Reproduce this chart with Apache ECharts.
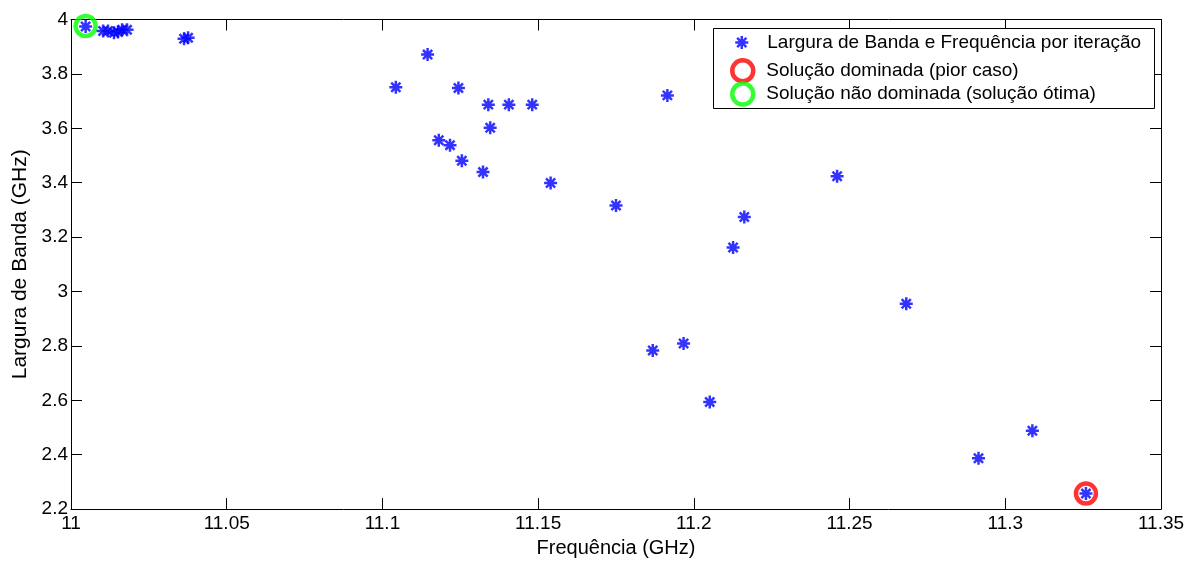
<!DOCTYPE html>
<html>
<head>
<meta charset="utf-8">
<script src="https://cdn.jsdelivr.net/npm/echarts@6/dist/echarts.min.js"></script>
<style>html,body{margin:0;padding:0;background:#fff}#c{width:1197px;height:563px}</style>
</head>
<body>
<div id="c"></div>
<script>
// Data
var freq = [11.0047, 11.0103, 11.0119, 11.0138, 11.0151, 11.0164, 11.0180, 11.0363, 11.0376,
  11.1043, 11.1145, 11.1244, 11.1340, 11.1406, 11.1481, 11.1915, 11.1346, 11.1181, 11.1217,
  11.1255, 11.1323, 11.1540, 11.2460, 11.1750, 11.2162, 11.2126, 11.2682, 11.1868, 11.1967,
  11.2051, 11.2914, 11.3087, 11.3259];
var bandwidth = [3.974, 3.958, 3.958, 3.951, 3.954, 3.962, 3.962, 3.929, 3.933,
  3.751, 3.871, 3.748, 3.687, 3.687, 3.687, 3.721, 3.602, 3.556, 3.538,
  3.481, 3.439, 3.399, 3.424, 3.316, 3.274, 3.162, 2.955, 2.783, 2.809,
  2.594, 2.387, 2.488, 2.257];
var dominated = [11.3259, 2.257];
var nonDominated = [11.0047, 3.976];
var xTicks = {min: 11, max: 11.35, interval: 0.05};
var yTicks = {min: 2.2, max: 4, interval: 0.2};
var names = ['Largura de Banda e Frequência por iteração', 'Solução dominada (pior caso)', 'Solução não dominada (solução ótima)'];

var starPath = 'path://M6 0L6 12M0 6L12 6M1.76 1.76L10.24 10.24M10.24 1.76L1.76 10.24';
var font = 'Liberation Sans, Arial, sans-serif';
var pts = freq.map(function (f, i) { return [f, bandwidth[i]]; });

var chart = echarts.init(document.getElementById('c'));
var axisCommon = {
  axisLine: {show: true, onZero: false, lineStyle: {color: '#000', width: 1}},
  axisTick: {show: true, inside: true, length: 11, lineStyle: {color: '#000'}},
  splitLine: {show: false}
};
chart.setOption({
  animation: false,
  backgroundColor: '#fff',
  grid: {left: 71, right: 36, top: 19.5, bottom: 50},
  xAxis: [
    Object.assign({type: 'value', position: 'bottom', min: xTicks.min, max: xTicks.max, interval: xTicks.interval,
      name: 'Frequência (GHz)', nameLocation: 'middle', nameGap: 27,
      nameTextStyle: {fontSize: 20, fontFamily: font, color: '#000'},
      axisLabel: {fontSize: 19, fontFamily: font, color: '#000', margin: 5}}, axisCommon),
    Object.assign({type: 'value', position: 'top', min: xTicks.min, max: xTicks.max, interval: xTicks.interval,
      axisLabel: {show: false}}, axisCommon)
  ],
  yAxis: [
    Object.assign({type: 'value', position: 'left', min: yTicks.min, max: yTicks.max, interval: yTicks.interval,
      name: 'Largura de Banda (GHz)', nameLocation: 'middle', nameGap: 40,
      nameTextStyle: {fontSize: 21, fontFamily: font, color: '#000'},
      axisLabel: {fontSize: 19, fontFamily: font, color: '#000', margin: 3}}, axisCommon),
    Object.assign({type: 'value', position: 'right', min: yTicks.min, max: yTicks.max, interval: yTicks.interval,
      axisLabel: {show: false}}, axisCommon)
  ],
  graphic: [{
    type: 'rect', left: 713, top: 28, z: 5,
    shape: {width: 441, height: 80},
    style: {fill: '#fff', stroke: '#000', lineWidth: 1}
  }],
  legend: [{
    z: 10, left: 734, top: 33, padding: 0,
    itemWidth: 13, itemHeight: 13,
    textStyle: {fontSize: 19, fontFamily: font, color: '#000', padding: [0, 0, 0, 14]},
    data: [{name: names[0], icon: starPath, itemStyle: {color: '#0000ff', borderColor: '#0000ff', borderWidth: 2.5}}]
  }, {
    z: 10, left: 730, top: 58, padding: 0,
    itemWidth: 21, itemHeight: 21,
    textStyle: {fontSize: 19, fontFamily: font, color: '#000', padding: [0, 0, 0, 8]},
    data: [{name: names[1], icon: 'circle', itemStyle: {color: 'transparent', borderColor: '#ff0000', borderWidth: 4.5}}]
  }, {
    z: 10, left: 730, top: 81.3, padding: 0,
    itemWidth: 21, itemHeight: 21,
    textStyle: {fontSize: 19, fontFamily: font, color: '#000', padding: [0, 0, 0, 8]},
    data: [{name: names[2], icon: 'circle', itemStyle: {color: 'transparent', borderColor: '#00ff00', borderWidth: 4.5}}]
  }],
  series: [{
    name: names[1], type: 'scatter', data: [dominated], symbol: 'circle', symbolSize: 20, z: 2,
    itemStyle: {color: 'transparent', borderColor: '#ff0000', borderWidth: 4.5}
  }, {
    name: names[2], type: 'scatter', data: [nonDominated], symbol: 'circle', symbolSize: 20, z: 2,
    itemStyle: {color: 'transparent', borderColor: '#00ff00', borderWidth: 4.5}
  }, {
    name: names[0], type: 'scatter', data: pts, symbol: starPath, symbolSize: 13, z: 3,
    itemStyle: {color: '#0000ff', borderColor: '#0000ff', borderWidth: 2.5}
  }]
});
</script>
</body>
</html>
